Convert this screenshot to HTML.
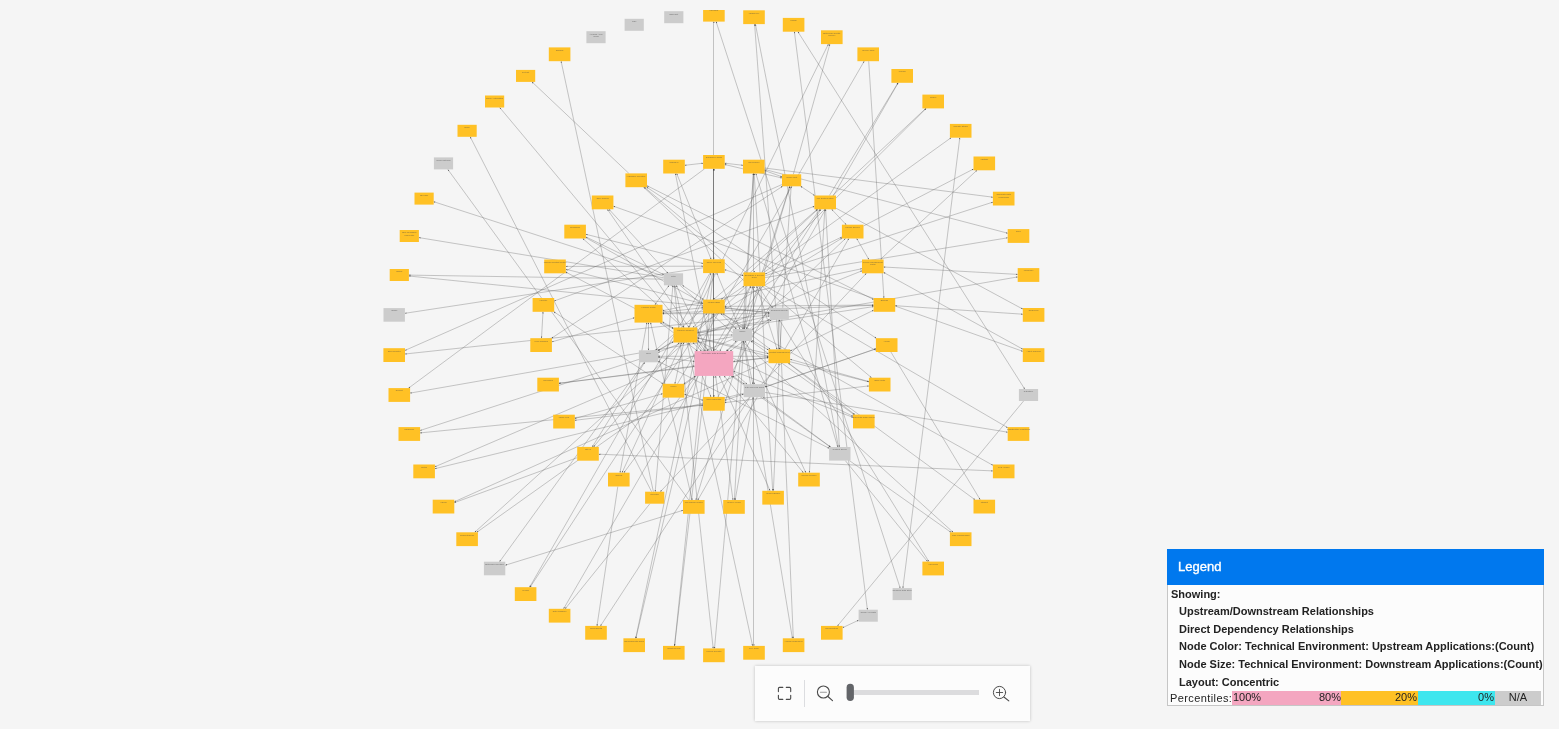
<!DOCTYPE html>
<html lang="en">
<head>
<meta charset="utf-8">
<title>Relationship Graph</title>
<style>
html,body{margin:0;padding:0;}
body{width:1559px;height:729px;background:#f5f5f5;overflow:hidden;position:relative;font-family:"Liberation Sans",Arial,sans-serif;}
#legend{position:absolute;left:1167px;top:549px;width:377px;height:157px;box-sizing:border-box;background:#fcfcfc;border:1px solid #c6c6c6;border-top:none;}
#legend .hd{position:absolute;left:-1px;top:0;width:377px;height:36px;background:#0078ee;color:#fff;font-size:13px;line-height:36px;text-indent:11px;-webkit-text-stroke:0.35px #fff;}
#legend .ln{position:absolute;left:3px;white-space:nowrap;font-size:11px;font-weight:bold;color:#222;line-height:14px;}
#legend .ln.i{left:11px;}
#legend .bar{position:absolute;top:142px;height:14px;font-size:11px;line-height:13px;color:#222;text-align:right;box-sizing:border-box;}
#tb{position:absolute;left:755px;top:666px;width:275px;height:54.5px;background:#fcfcfc;box-shadow:0 0 3px rgba(0,0,0,0.22);}
</style>
</head>
<body>
<svg width="1559" height="719" viewBox="0 10 1559 719" style="position:absolute;left:0;top:10px">
<g stroke="#606060" stroke-width="0.34" fill="none">
<line x1="713.5" y1="155.0" x2="713.5" y2="21.6"/>
<line x1="900.2" y1="588.1" x2="716.1" y2="21.6"/>
<line x1="778.8" y1="349.4" x2="754.6" y2="24.1"/>
<line x1="838.5" y1="447.0" x2="755.4" y2="24.1"/>
<line x1="867.4" y1="609.7" x2="794.4" y2="31.7"/>
<line x1="1024.7" y1="389.0" x2="797.9" y2="31.7"/>
<line x1="689.1" y1="327.5" x2="828.4" y2="44.1"/>
<line x1="793.3" y1="174.3" x2="829.9" y2="44.1"/>
<line x1="677.5" y1="383.8" x2="864.2" y2="61.2"/>
<line x1="868.7" y1="61.2" x2="883.9" y2="298.0"/>
<line x1="829.4" y1="195.5" x2="898.0" y2="82.8"/>
<line x1="717.9" y1="396.9" x2="898.2" y2="82.8"/>
<line x1="832.6" y1="195.5" x2="925.8" y2="108.4"/>
<line x1="761.3" y1="272.4" x2="926.2" y2="108.4"/>
<line x1="763.9" y1="272.4" x2="951.1" y2="137.7"/>
<line x1="902.9" y1="588.1" x2="959.8" y2="137.7"/>
<line x1="863.5" y1="226.0" x2="973.5" y2="169.0"/>
<line x1="880.3" y1="259.5" x2="976.9" y2="170.3"/>
<line x1="764.6" y1="168.0" x2="992.9" y2="197.2"/>
<line x1="765.1" y1="275.8" x2="992.9" y2="202.1"/>
<line x1="764.6" y1="169.4" x2="1007.7" y2="233.2"/>
<line x1="765.1" y1="277.6" x2="1007.7" y2="237.8"/>
<line x1="883.6" y1="267.0" x2="1017.7" y2="274.4"/>
<line x1="697.2" y1="332.9" x2="1017.7" y2="276.9"/>
<line x1="836.0" y1="208.2" x2="1022.8" y2="309.1"/>
<line x1="895.2" y1="305.7" x2="1022.8" y2="314.2"/>
<line x1="883.6" y1="272.4" x2="1022.8" y2="349.2"/>
<line x1="765.1" y1="285.7" x2="1007.7" y2="427.7"/>
<line x1="765.0" y1="392.4" x2="1007.7" y2="432.2"/>
<line x1="598.8" y1="454.2" x2="992.9" y2="470.9"/>
<line x1="585.9" y1="237.7" x2="992.9" y2="465.3"/>
<line x1="788.7" y1="363.2" x2="974.9" y2="499.7"/>
<line x1="890.9" y1="352.0" x2="980.2" y2="499.7"/>
<line x1="849.4" y1="460.6" x2="950.9" y2="532.3"/>
<line x1="680.1" y1="285.3" x2="953.1" y2="532.3"/>
<line x1="845.3" y1="460.6" x2="927.5" y2="561.6"/>
<line x1="758.6" y1="286.2" x2="928.9" y2="561.6"/>
<line x1="1023.6" y1="401.0" x2="837.5" y2="625.9"/>
<line x1="858.6" y1="620.2" x2="842.6" y2="627.7"/>
<line x1="743.4" y1="341.0" x2="792.4" y2="638.3"/>
<line x1="779.6" y1="319.7" x2="793.3" y2="638.3"/>
<line x1="687.0" y1="342.5" x2="752.6" y2="645.9"/>
<line x1="753.5" y1="286.2" x2="753.5" y2="645.9"/>
<line x1="674.1" y1="285.3" x2="713.2" y2="648.4"/>
<line x1="741.9" y1="341.0" x2="714.5" y2="648.4"/>
<line x1="713.2" y1="273.1" x2="674.5" y2="645.9"/>
<line x1="713.1" y1="313.4" x2="674.6" y2="645.9"/>
<line x1="712.4" y1="273.1" x2="635.7" y2="638.3"/>
<line x1="712.3" y1="313.4" x2="635.9" y2="638.3"/>
<line x1="617.8" y1="486.5" x2="597.0" y2="625.9"/>
<line x1="750.1" y1="397.2" x2="600.5" y2="625.9"/>
<line x1="750.3" y1="286.2" x2="563.6" y2="608.8"/>
<line x1="649.9" y1="503.7" x2="565.2" y2="608.8"/>
<line x1="709.9" y1="273.1" x2="529.6" y2="587.2"/>
<line x1="709.4" y1="313.4" x2="530.1" y2="587.2"/>
<line x1="644.1" y1="362.3" x2="499.6" y2="561.7"/>
<line x1="683.0" y1="510.3" x2="505.3" y2="565.2"/>
<line x1="746.7" y1="286.2" x2="474.7" y2="532.3"/>
<line x1="696.5" y1="375.9" x2="476.8" y2="532.3"/>
<line x1="768.5" y1="361.1" x2="454.3" y2="501.8"/>
<line x1="577.2" y1="457.7" x2="454.3" y2="502.7"/>
<line x1="732.8" y1="339.1" x2="434.9" y2="466.8"/>
<line x1="743.7" y1="393.3" x2="434.9" y2="468.7"/>
<line x1="638.9" y1="359.4" x2="420.1" y2="430.5"/>
<line x1="703.1" y1="404.9" x2="420.1" y2="432.9"/>
<line x1="732.8" y1="336.7" x2="410.1" y2="393.1"/>
<line x1="782.0" y1="184.5" x2="405.0" y2="350.4"/>
<line x1="769.7" y1="314.8" x2="405.0" y2="354.0"/>
<line x1="703.1" y1="267.8" x2="404.9" y2="313.3"/>
<line x1="663.9" y1="279.2" x2="408.9" y2="275.1"/>
<line x1="769.7" y1="312.8" x2="408.9" y2="276.0"/>
<line x1="663.9" y1="277.8" x2="418.9" y2="237.6"/>
<line x1="663.9" y1="276.2" x2="433.7" y2="201.7"/>
<line x1="688.8" y1="500.0" x2="447.8" y2="169.4"/>
<line x1="651.6" y1="491.7" x2="470.2" y2="136.8"/>
<line x1="703.5" y1="351.1" x2="499.7" y2="107.5"/>
<line x1="628.9" y1="173.4" x2="532.0" y2="81.9"/>
<line x1="653.4" y1="491.7" x2="561.1" y2="61.2"/>
<line x1="684.8" y1="165.3" x2="703.1" y2="163.2"/>
<line x1="724.7" y1="163.2" x2="743.0" y2="165.3"/>
<line x1="724.7" y1="164.5" x2="782.0" y2="178.0"/>
<line x1="713.5" y1="168.8" x2="713.5" y2="259.3"/>
<line x1="713.5" y1="273.1" x2="713.5" y2="299.6"/>
<line x1="713.5" y1="313.4" x2="713.5" y2="351.1"/>
<line x1="713.5" y1="375.9" x2="713.5" y2="396.9"/>
<line x1="704.6" y1="168.8" x2="408.6" y2="388.1"/>
<line x1="753.5" y1="173.5" x2="753.5" y2="272.4"/>
<line x1="753.4" y1="173.5" x2="742.8" y2="329.0"/>
<line x1="753.4" y1="173.5" x2="734.4" y2="500.0"/>
<line x1="754.2" y1="173.5" x2="772.7" y2="490.8"/>
<line x1="755.9" y1="173.5" x2="837.8" y2="447.0"/>
<line x1="764.6" y1="170.5" x2="782.0" y2="176.8"/>
<line x1="782.5" y1="186.3" x2="551.6" y2="338.2"/>
<line x1="744.3" y1="329.0" x2="789.7" y2="186.3"/>
<line x1="789.8" y1="186.3" x2="695.9" y2="500.0"/>
<line x1="779.8" y1="349.4" x2="791.2" y2="186.3"/>
<line x1="800.7" y1="186.3" x2="814.7" y2="195.5"/>
<line x1="831.7" y1="209.3" x2="846.2" y2="224.7"/>
<line x1="655.4" y1="350.3" x2="817.2" y2="209.3"/>
<line x1="721.3" y1="299.6" x2="817.8" y2="209.3"/>
<line x1="820.0" y1="209.3" x2="623.9" y2="472.7"/>
<line x1="746.1" y1="329.0" x2="820.9" y2="209.3"/>
<line x1="824.8" y1="209.3" x2="809.4" y2="472.7"/>
<line x1="814.4" y1="206.3" x2="554.2" y2="301.0"/>
<line x1="825.6" y1="209.3" x2="839.4" y2="447.0"/>
<line x1="765.1" y1="274.1" x2="841.9" y2="236.9"/>
<line x1="658.1" y1="350.4" x2="841.9" y2="238.2"/>
<line x1="727.0" y1="351.1" x2="845.5" y2="238.5"/>
<line x1="848.8" y1="238.5" x2="697.8" y2="500.0"/>
<line x1="856.7" y1="238.5" x2="868.9" y2="259.5"/>
<line x1="662.5" y1="310.8" x2="862.0" y2="268.7"/>
<line x1="658.1" y1="352.4" x2="862.0" y2="270.8"/>
<line x1="866.3" y1="273.3" x2="660.4" y2="491.7"/>
<line x1="647.0" y1="185.7" x2="873.6" y2="299.5"/>
<line x1="662.5" y1="313.2" x2="873.6" y2="305.3"/>
<line x1="697.2" y1="333.2" x2="873.6" y2="306.6"/>
<line x1="790.1" y1="351.0" x2="873.6" y2="310.2"/>
<line x1="646.7" y1="187.2" x2="876.2" y2="338.2"/>
<line x1="765.0" y1="387.0" x2="875.9" y2="348.8"/>
<line x1="765.0" y1="387.0" x2="875.9" y2="348.8"/>
<line x1="644.4" y1="187.2" x2="871.5" y2="377.7"/>
<line x1="697.2" y1="338.0" x2="868.9" y2="381.9"/>
<line x1="790.1" y1="359.3" x2="868.9" y2="381.6"/>
<line x1="724.7" y1="402.6" x2="868.9" y2="385.9"/>
<line x1="733.2" y1="371.0" x2="853.0" y2="417.4"/>
<line x1="697.2" y1="340.7" x2="853.0" y2="416.3"/>
<line x1="750.8" y1="341.0" x2="854.1" y2="414.6"/>
<line x1="788.3" y1="363.2" x2="854.9" y2="414.6"/>
<line x1="763.1" y1="397.2" x2="830.6" y2="447.0"/>
<line x1="731.2" y1="375.9" x2="830.3" y2="447.0"/>
<line x1="658.1" y1="361.2" x2="829.1" y2="448.3"/>
<line x1="724.1" y1="375.9" x2="803.4" y2="472.7"/>
<line x1="745.2" y1="341.0" x2="805.8" y2="472.7"/>
<line x1="719.4" y1="375.9" x2="770.1" y2="490.8"/>
<line x1="779.0" y1="363.2" x2="773.4" y2="490.8"/>
<line x1="753.2" y1="397.2" x2="735.2" y2="500.0"/>
<line x1="715.6" y1="375.9" x2="733.0" y2="500.0"/>
<line x1="650.6" y1="322.6" x2="692.2" y2="500.0"/>
<line x1="672.9" y1="285.3" x2="655.2" y2="491.7"/>
<line x1="646.9" y1="322.6" x2="620.0" y2="472.7"/>
<line x1="681.9" y1="342.5" x2="622.0" y2="472.7"/>
<line x1="644.7" y1="362.3" x2="592.3" y2="446.9"/>
<line x1="679.2" y1="342.5" x2="593.6" y2="446.9"/>
<line x1="662.7" y1="393.7" x2="574.8" y2="418.5"/>
<line x1="703.1" y1="405.1" x2="574.8" y2="420.3"/>
<line x1="694.6" y1="366.0" x2="558.9" y2="383.3"/>
<line x1="768.5" y1="357.6" x2="558.9" y2="383.3"/>
<line x1="551.9" y1="341.9" x2="634.5" y2="317.8"/>
<line x1="541.5" y1="338.2" x2="543.0" y2="311.8"/>
<line x1="663.0" y1="383.8" x2="553.9" y2="311.8"/>
<line x1="703.1" y1="266.2" x2="565.8" y2="266.4"/>
<line x1="703.1" y1="303.8" x2="565.8" y2="269.2"/>
<line x1="673.5" y1="328.8" x2="565.8" y2="272.1"/>
<line x1="703.1" y1="263.5" x2="585.9" y2="234.3"/>
<line x1="663.9" y1="274.7" x2="585.9" y2="236.9"/>
<line x1="747.0" y1="384.2" x2="582.8" y2="238.5"/>
<line x1="1022.8" y1="351.3" x2="613.4" y2="206.2"/>
<line x1="667.9" y1="273.3" x2="609.0" y2="209.3"/>
<line x1="705.3" y1="351.1" x2="607.4" y2="209.3"/>
<line x1="772.9" y1="307.7" x2="643.6" y2="187.2"/>
<line x1="675.4" y1="173.5" x2="711.4" y2="351.1"/>
<line x1="676.7" y1="173.5" x2="711.1" y2="259.3"/>
<line x1="713.5" y1="168.8" x2="713.5" y2="351.1"/>
<line x1="713.5" y1="168.8" x2="713.5" y2="396.9"/>
<line x1="713.5" y1="168.8" x2="713.5" y2="299.6"/>
<line x1="726.3" y1="351.1" x2="736.4" y2="341.0"/>
<line x1="701.5" y1="351.1" x2="692.9" y2="342.5"/>
<line x1="733.2" y1="361.4" x2="768.5" y2="357.5"/>
<line x1="732.4" y1="375.9" x2="744.7" y2="384.2"/>
<line x1="695.4" y1="375.9" x2="683.7" y2="383.8"/>
<line x1="694.6" y1="361.4" x2="658.1" y2="357.3"/>
<line x1="697.6" y1="351.1" x2="660.2" y2="322.6"/>
<line x1="707.9" y1="351.1" x2="676.3" y2="285.3"/>
<line x1="719.9" y1="351.1" x2="751.0" y2="286.2"/>
<line x1="730.2" y1="351.1" x2="771.4" y2="319.7"/>
<line x1="720.8" y1="313.4" x2="736.4" y2="329.0"/>
<line x1="707.0" y1="313.4" x2="692.9" y2="327.5"/>
<line x1="724.2" y1="299.6" x2="744.1" y2="286.2"/>
<line x1="703.6" y1="299.6" x2="682.4" y2="285.3"/>
<line x1="703.1" y1="307.7" x2="662.5" y2="312.2"/>
<line x1="724.7" y1="307.7" x2="769.7" y2="312.7"/>
<line x1="723.0" y1="313.4" x2="770.3" y2="349.4"/>
<line x1="724.7" y1="306.4" x2="873.6" y2="305.0"/>
<line x1="743.7" y1="329.0" x2="752.9" y2="286.2"/>
<line x1="752.0" y1="329.5" x2="769.7" y2="319.3"/>
<line x1="752.0" y1="340.5" x2="768.5" y2="350.0"/>
<line x1="743.7" y1="341.0" x2="752.9" y2="384.2"/>
<line x1="732.8" y1="335.0" x2="697.2" y2="335.0"/>
<line x1="739.9" y1="329.0" x2="716.8" y2="273.1"/>
<line x1="673.5" y1="328.2" x2="662.5" y2="321.8"/>
<line x1="673.5" y1="341.8" x2="658.1" y2="350.7"/>
<line x1="683.8" y1="342.5" x2="674.9" y2="383.8"/>
<line x1="683.8" y1="327.5" x2="674.7" y2="285.3"/>
<line x1="688.5" y1="327.5" x2="711.0" y2="273.1"/>
<line x1="688.5" y1="342.5" x2="711.0" y2="396.9"/>
<line x1="697.2" y1="337.7" x2="768.5" y2="353.8"/>
<line x1="697.2" y1="332.3" x2="769.7" y2="315.9"/>
<line x1="724.7" y1="269.7" x2="743.5" y2="275.8"/>
<line x1="778.5" y1="319.7" x2="778.5" y2="349.4"/>
<line x1="648.5" y1="322.6" x2="648.5" y2="350.3"/>
<line x1="662.5" y1="313.7" x2="769.7" y2="313.7"/>
<line x1="743.7" y1="394.1" x2="724.7" y2="400.3"/>
<line x1="684.3" y1="394.2" x2="703.1" y2="400.3"/>
<line x1="654.9" y1="304.8" x2="669.1" y2="285.3"/>
<line x1="756.6" y1="286.2" x2="777.1" y2="349.4"/>
<line x1="658.1" y1="356.3" x2="768.5" y2="356.3"/>
<line x1="753.5" y1="286.2" x2="753.5" y2="384.2"/>
</g>
<g fill="#444">
<polygon points="713.9,21.6 714.5,23.1 713.3,23.1"/>
<polygon points="716.1,21.6 717.2,22.8 716.0,23.2"/>
<polygon points="900.2,588.1 899.2,586.9 900.3,586.5"/>
<polygon points="754.6,24.1 755.3,25.6 754.1,25.7"/>
<polygon points="755.4,24.1 756.3,25.5 755.1,25.7"/>
<polygon points="794.4,31.7 795.2,33.1 794.0,33.2"/>
<polygon points="867.4,609.7 866.6,608.3 867.9,608.1"/>
<polygon points="797.9,31.7 799.3,32.6 798.2,33.3"/>
<polygon points="1024.7,389.0 1023.4,388.1 1024.4,387.4"/>
<polygon points="828.4,44.1 828.3,45.7 827.2,45.2"/>
<polygon points="829.9,44.1 830.1,45.7 828.9,45.4"/>
<polygon points="864.2,61.2 864.0,62.8 862.9,62.2"/>
<polygon points="883.9,298.0 883.2,296.6 884.4,296.5"/>
<polygon points="898.0,82.8 897.7,84.4 896.7,83.7"/>
<polygon points="898.2,82.8 898.0,84.4 896.9,83.8"/>
<polygon points="925.8,108.4 925.1,109.9 924.3,109.0"/>
<polygon points="926.2,108.4 925.6,109.9 924.7,109.0"/>
<polygon points="951.1,137.7 950.3,139.1 949.5,138.1"/>
<polygon points="959.8,137.7 960.3,139.3 959.0,139.1"/>
<polygon points="902.9,588.1 902.5,586.6 903.7,586.7"/>
<polygon points="973.5,169.0 972.5,170.2 971.9,169.1"/>
<polygon points="976.9,170.3 976.2,171.7 975.4,170.8"/>
<polygon points="992.9,197.2 991.3,197.7 991.5,196.4"/>
<polygon points="992.9,202.1 991.7,203.2 991.3,202.0"/>
<polygon points="1007.7,233.2 1006.1,233.4 1006.4,232.2"/>
<polygon points="1007.7,237.8 1006.3,238.6 1006.1,237.4"/>
<polygon points="1017.7,274.4 1016.2,274.9 1016.3,273.7"/>
<polygon points="883.6,267.0 885.2,266.5 885.1,267.7"/>
<polygon points="1017.7,276.9 1016.4,277.7 1016.1,276.5"/>
<polygon points="1022.8,309.1 1021.2,308.9 1021.7,307.8"/>
<polygon points="1022.8,314.2 1021.2,314.7 1021.3,313.4"/>
<polygon points="895.2,305.7 896.7,305.1 896.6,306.4"/>
<polygon points="1022.8,349.2 1021.2,349.0 1021.8,347.9"/>
<polygon points="883.6,272.4 885.3,272.6 884.7,273.7"/>
<polygon points="1007.7,427.7 1006.1,427.4 1006.7,426.4"/>
<polygon points="1007.7,432.2 1006.1,432.6 1006.3,431.4"/>
<polygon points="992.9,470.9 991.4,471.5 991.4,470.2"/>
<polygon points="598.8,454.2 600.3,453.7 600.3,454.9"/>
<polygon points="992.9,465.3 991.3,465.1 991.9,464.1"/>
<polygon points="974.9,499.7 973.4,499.3 974.1,498.3"/>
<polygon points="980.2,499.7 978.9,498.8 979.9,498.1"/>
<polygon points="950.9,532.3 949.3,531.9 950.1,530.9"/>
<polygon points="953.1,532.3 951.5,531.7 952.4,530.8"/>
<polygon points="927.5,561.6 926.1,560.8 927.1,560.0"/>
<polygon points="928.9,561.6 927.6,560.6 928.6,560.0"/>
<polygon points="837.5,625.9 838.0,624.4 839.0,625.1"/>
<polygon points="842.6,627.7 843.7,626.5 844.2,627.6"/>
<polygon points="858.6,620.2 857.5,621.4 857.0,620.3"/>
<polygon points="792.4,638.3 791.6,637.0 792.8,636.8"/>
<polygon points="793.3,638.3 792.6,636.9 793.8,636.8"/>
<polygon points="752.6,645.9 751.6,644.5 752.8,644.3"/>
<polygon points="754.0,645.9 753.4,644.4 754.7,644.4"/>
<polygon points="713.2,648.4 712.4,647.0 713.6,646.8"/>
<polygon points="714.5,648.4 714.0,646.9 715.3,647.0"/>
<polygon points="674.5,645.9 674.0,644.3 675.2,644.4"/>
<polygon points="674.6,645.9 674.1,644.3 675.3,644.5"/>
<polygon points="635.7,638.3 635.4,636.7 636.6,637.0"/>
<polygon points="635.9,638.3 635.6,636.7 636.8,637.0"/>
<polygon points="597.0,625.9 596.6,624.3 597.9,624.5"/>
<polygon points="600.5,625.9 600.8,624.3 601.8,625.0"/>
<polygon points="563.6,608.8 563.8,607.2 564.9,607.8"/>
<polygon points="565.2,608.8 565.6,607.2 566.6,608.0"/>
<polygon points="529.6,587.2 529.8,585.6 530.9,586.2"/>
<polygon points="530.1,587.2 530.5,585.6 531.5,586.3"/>
<polygon points="499.6,561.7 499.9,560.1 501.0,560.8"/>
<polygon points="505.3,565.2 506.6,564.1 507.0,565.3"/>
<polygon points="683.0,510.3 681.8,511.3 681.4,510.1"/>
<polygon points="474.7,532.3 475.4,530.8 476.3,531.7"/>
<polygon points="476.8,532.3 477.7,530.9 478.4,531.9"/>
<polygon points="454.3,501.8 455.4,500.6 455.9,501.7"/>
<polygon points="454.3,502.7 455.5,501.6 455.9,502.7"/>
<polygon points="434.9,466.8 436.0,465.6 436.5,466.7"/>
<polygon points="434.9,468.7 436.2,467.8 436.5,469.0"/>
<polygon points="420.1,430.5 421.3,429.4 421.7,430.6"/>
<polygon points="420.1,432.9 421.5,432.1 421.6,433.4"/>
<polygon points="410.1,393.1 411.4,392.3 411.7,393.5"/>
<polygon points="405.0,350.4 406.2,349.2 406.7,350.3"/>
<polygon points="405.0,354.0 406.5,353.2 406.6,354.4"/>
<polygon points="404.9,313.3 406.3,312.4 406.5,313.6"/>
<polygon points="408.9,275.1 410.4,274.5 410.4,275.8"/>
<polygon points="408.9,276.0 410.4,275.5 410.3,276.7"/>
<polygon points="418.9,237.6 420.5,237.2 420.3,238.5"/>
<polygon points="433.7,201.7 435.3,201.6 434.9,202.8"/>
<polygon points="447.8,169.4 449.2,170.2 448.2,171.0"/>
<polygon points="470.2,136.8 471.4,137.9 470.3,138.5"/>
<polygon points="499.7,107.5 501.1,108.3 500.1,109.1"/>
<polygon points="532.0,81.9 533.5,82.5 532.6,83.4"/>
<polygon points="561.1,61.2 562.0,62.6 560.8,62.8"/>
<polygon points="703.1,163.2 701.7,164.0 701.5,162.7"/>
<polygon points="684.8,165.3 686.2,164.5 686.3,165.7"/>
<polygon points="743.0,165.3 741.5,165.7 741.6,164.5"/>
<polygon points="724.7,163.2 726.3,162.7 726.1,164.0"/>
<polygon points="782.0,178.0 780.4,178.3 780.7,177.1"/>
<polygon points="724.7,164.5 726.3,164.2 726.0,165.4"/>
<polygon points="713.9,259.3 713.3,257.8 714.5,257.8"/>
<polygon points="713.9,168.8 714.5,170.3 713.3,170.3"/>
<polygon points="713.9,299.6 713.3,298.1 714.5,298.1"/>
<polygon points="713.9,273.1 714.5,274.6 713.3,274.6"/>
<polygon points="713.9,351.1 713.3,349.6 714.5,349.6"/>
<polygon points="713.9,313.4 714.5,314.9 713.3,314.9"/>
<polygon points="713.9,396.9 713.3,395.4 714.5,395.4"/>
<polygon points="713.9,375.9 714.5,377.4 713.3,377.4"/>
<polygon points="408.6,388.1 409.4,386.7 410.2,387.7"/>
<polygon points="754.3,272.4 753.7,270.9 754.9,270.9"/>
<polygon points="753.9,173.5 754.5,175.0 753.2,175.0"/>
<polygon points="742.8,329.0 742.3,327.5 743.5,327.5"/>
<polygon points="753.4,173.5 753.9,175.0 752.6,174.9"/>
<polygon points="734.4,500.0 733.9,498.5 735.1,498.6"/>
<polygon points="753.4,173.5 753.9,175.0 752.7,174.9"/>
<polygon points="772.7,490.8 772.0,489.3 773.2,489.2"/>
<polygon points="754.2,173.5 754.9,174.9 753.7,175.0"/>
<polygon points="837.8,447.0 836.7,445.7 837.9,445.4"/>
<polygon points="755.9,173.5 756.9,174.7 755.7,175.1"/>
<polygon points="782.0,176.8 780.4,176.9 780.8,175.7"/>
<polygon points="764.6,170.5 766.2,170.4 765.8,171.6"/>
<polygon points="551.6,338.2 552.5,336.8 553.2,337.9"/>
<polygon points="782.5,186.3 781.6,187.7 780.9,186.6"/>
<polygon points="789.7,186.3 789.8,187.9 788.6,187.6"/>
<polygon points="744.3,329.0 744.2,327.4 745.4,327.8"/>
<polygon points="695.9,500.0 695.7,498.4 696.9,498.8"/>
<polygon points="789.8,186.3 790.0,187.9 788.8,187.6"/>
<polygon points="791.2,186.3 791.7,187.9 790.4,187.8"/>
<polygon points="779.8,349.4 779.3,347.8 780.5,347.9"/>
<polygon points="814.7,195.5 813.1,195.2 813.8,194.2"/>
<polygon points="800.7,186.3 802.3,186.6 801.6,187.7"/>
<polygon points="846.2,224.7 844.8,224.1 845.7,223.2"/>
<polygon points="831.7,209.3 833.2,210.0 832.3,210.8"/>
<polygon points="817.2,209.3 816.5,210.8 815.7,209.8"/>
<polygon points="655.4,350.3 656.1,348.8 656.9,349.7"/>
<polygon points="817.8,209.3 817.1,210.8 816.3,209.9"/>
<polygon points="721.3,299.6 721.9,298.1 722.8,299.0"/>
<polygon points="623.9,472.7 624.3,471.1 625.3,471.9"/>
<polygon points="820.0,209.3 819.6,210.9 818.6,210.1"/>
<polygon points="820.9,209.3 820.6,210.9 819.5,210.2"/>
<polygon points="746.1,329.0 746.4,327.4 747.5,328.1"/>
<polygon points="809.4,472.7 808.9,471.2 810.1,471.3"/>
<polygon points="824.8,209.3 825.3,210.8 824.1,210.8"/>
<polygon points="554.2,301.0 555.4,299.9 555.9,301.1"/>
<polygon points="814.4,206.3 813.2,207.4 812.7,206.3"/>
<polygon points="839.4,447.0 838.7,445.5 839.9,445.5"/>
<polygon points="825.6,209.3 826.3,210.8 825.0,210.8"/>
<polygon points="841.9,236.9 840.9,238.1 840.3,237.0"/>
<polygon points="765.1,274.1 766.2,272.9 766.8,274.0"/>
<polygon points="841.9,238.2 841.0,239.5 840.3,238.5"/>
<polygon points="658.1,350.4 659.0,349.1 659.7,350.2"/>
<polygon points="845.5,238.5 844.8,240.0 844.0,239.1"/>
<polygon points="727.0,351.1 727.6,349.6 728.5,350.5"/>
<polygon points="697.8,500.0 698.0,498.4 699.1,499.0"/>
<polygon points="848.8,238.5 848.6,240.1 847.5,239.5"/>
<polygon points="868.9,259.5 867.6,258.5 868.6,257.9"/>
<polygon points="856.7,238.5 858.0,239.5 856.9,240.1"/>
<polygon points="862.0,268.7 860.7,269.6 860.4,268.4"/>
<polygon points="662.5,310.8 663.8,309.9 664.1,311.1"/>
<polygon points="862.0,270.8 860.9,271.9 860.4,270.7"/>
<polygon points="658.1,352.4 659.2,351.3 659.7,352.4"/>
<polygon points="660.4,491.7 660.9,490.1 661.8,491.0"/>
<polygon points="866.3,273.3 865.8,274.9 864.9,274.0"/>
<polygon points="873.6,299.5 872.0,299.4 872.5,298.3"/>
<polygon points="647.0,185.7 648.6,185.9 648.1,187.0"/>
<polygon points="873.6,305.3 872.1,306.0 872.0,304.8"/>
<polygon points="662.5,313.2 663.9,312.5 664.0,313.8"/>
<polygon points="873.6,306.6 872.2,307.4 872.0,306.2"/>
<polygon points="697.2,333.2 698.6,332.4 698.8,333.6"/>
<polygon points="873.6,310.2 872.5,311.4 872.0,310.3"/>
<polygon points="790.1,351.0 791.2,349.8 791.8,350.9"/>
<polygon points="876.2,338.2 874.6,337.9 875.3,336.8"/>
<polygon points="646.7,187.2 648.3,187.5 647.6,188.6"/>
<polygon points="875.9,348.8 874.7,349.9 874.3,348.7"/>
<polygon points="765.0,387.0 766.2,385.9 766.6,387.1"/>
<polygon points="875.9,348.8 874.7,349.9 874.3,348.7"/>
<polygon points="765.0,387.0 766.2,385.9 766.6,387.1"/>
<polygon points="871.5,377.7 870.0,377.3 870.8,376.3"/>
<polygon points="644.4,187.2 646.0,187.7 645.2,188.7"/>
<polygon points="868.9,381.9 867.3,382.1 867.6,380.9"/>
<polygon points="697.2,338.0 698.9,337.8 698.5,339.0"/>
<polygon points="868.9,381.6 867.3,381.8 867.7,380.6"/>
<polygon points="790.1,359.3 791.7,359.1 791.4,360.3"/>
<polygon points="868.9,385.9 867.5,386.7 867.4,385.4"/>
<polygon points="724.7,402.6 726.1,401.8 726.3,403.0"/>
<polygon points="853.0,417.4 851.4,417.4 851.8,416.2"/>
<polygon points="733.2,371.0 734.8,370.9 734.4,372.1"/>
<polygon points="853.0,416.3 851.4,416.2 851.9,415.1"/>
<polygon points="697.2,340.7 698.9,340.8 698.3,342.0"/>
<polygon points="854.1,414.6 852.5,414.3 853.3,413.3"/>
<polygon points="750.8,341.0 752.4,341.4 751.7,342.4"/>
<polygon points="854.9,414.6 853.3,414.2 854.1,413.2"/>
<polygon points="788.3,363.2 789.8,363.6 789.1,364.6"/>
<polygon points="830.6,447.0 829.0,446.6 829.8,445.6"/>
<polygon points="763.1,397.2 764.7,397.6 764.0,398.6"/>
<polygon points="830.3,447.0 828.7,446.6 829.5,445.6"/>
<polygon points="731.2,375.9 732.8,376.3 732.0,377.3"/>
<polygon points="829.1,448.3 827.5,448.2 828.1,447.1"/>
<polygon points="658.1,361.2 659.7,361.3 659.1,362.4"/>
<polygon points="803.4,472.7 801.9,472.0 802.9,471.2"/>
<polygon points="724.1,375.9 725.5,376.7 724.5,377.5"/>
<polygon points="805.8,472.7 804.7,471.6 805.8,471.1"/>
<polygon points="745.2,341.0 746.4,342.1 745.2,342.6"/>
<polygon points="770.1,490.8 768.9,489.6 770.0,489.1"/>
<polygon points="719.4,375.9 720.5,377.0 719.4,377.5"/>
<polygon points="773.4,490.8 772.9,489.2 774.1,489.3"/>
<polygon points="779.0,363.2 779.6,364.7 778.3,364.6"/>
<polygon points="735.2,500.0 734.9,498.4 736.1,498.7"/>
<polygon points="753.2,397.2 753.6,398.7 752.3,398.5"/>
<polygon points="733.0,500.0 732.2,498.6 733.4,498.5"/>
<polygon points="715.6,375.9 716.5,377.3 715.2,377.5"/>
<polygon points="692.2,500.0 691.2,498.7 692.4,498.4"/>
<polygon points="650.6,322.6 651.5,324.0 650.3,324.2"/>
<polygon points="655.2,491.7 654.7,490.1 656.0,490.2"/>
<polygon points="672.9,285.3 673.4,286.9 672.2,286.8"/>
<polygon points="620.0,472.7 619.7,471.1 620.9,471.4"/>
<polygon points="646.9,322.6 647.2,324.2 646.0,324.0"/>
<polygon points="622.0,472.7 622.0,471.1 623.1,471.6"/>
<polygon points="681.9,342.5 681.9,344.1 680.8,343.6"/>
<polygon points="592.3,446.9 592.5,445.3 593.6,445.9"/>
<polygon points="644.7,362.3 644.5,363.9 643.4,363.2"/>
<polygon points="593.6,446.9 594.1,445.3 595.1,446.1"/>
<polygon points="679.2,342.5 678.8,344.1 677.8,343.3"/>
<polygon points="574.8,418.5 576.1,417.5 576.4,418.7"/>
<polygon points="662.7,393.7 661.4,394.7 661.0,393.5"/>
<polygon points="574.8,420.3 576.2,419.5 576.4,420.7"/>
<polygon points="703.1,405.1 701.7,405.9 701.5,404.6"/>
<polygon points="558.9,383.3 560.3,382.5 560.4,383.7"/>
<polygon points="694.6,366.0 693.2,366.8 693.0,365.5"/>
<polygon points="558.9,383.3 560.3,382.5 560.4,383.8"/>
<polygon points="768.5,357.6 767.1,358.4 767.0,357.2"/>
<polygon points="634.5,317.8 633.2,318.8 632.9,317.6"/>
<polygon points="551.9,341.9 553.2,340.9 553.5,342.1"/>
<polygon points="543.0,311.8 543.6,313.4 542.3,313.3"/>
<polygon points="541.5,338.2 541.0,336.6 542.2,336.7"/>
<polygon points="553.9,311.8 555.5,312.1 554.8,313.2"/>
<polygon points="663.0,383.8 661.4,383.5 662.1,382.4"/>
<polygon points="565.8,266.4 567.3,265.8 567.3,267.0"/>
<polygon points="703.1,266.2 701.6,266.8 701.6,265.6"/>
<polygon points="565.8,269.2 567.4,268.9 567.1,270.1"/>
<polygon points="703.1,303.8 701.5,304.0 701.8,302.8"/>
<polygon points="565.8,272.1 567.4,272.3 566.8,273.4"/>
<polygon points="673.5,328.8 671.9,328.6 672.5,327.5"/>
<polygon points="585.9,234.3 587.5,234.1 587.2,235.3"/>
<polygon points="703.1,263.5 701.5,263.8 701.8,262.5"/>
<polygon points="585.9,236.9 587.5,237.0 586.9,238.1"/>
<polygon points="663.9,274.7 662.2,274.6 662.8,273.5"/>
<polygon points="582.8,238.5 584.4,239.1 583.5,240.0"/>
<polygon points="747.0,384.2 745.5,383.6 746.3,382.7"/>
<polygon points="613.4,206.2 615.1,206.1 614.6,207.3"/>
<polygon points="1022.8,351.3 1021.1,351.4 1021.6,350.2"/>
<polygon points="609.0,209.3 610.5,210.0 609.5,210.8"/>
<polygon points="667.9,273.3 666.5,272.7 667.4,271.8"/>
<polygon points="607.4,209.3 608.8,210.2 607.7,210.9"/>
<polygon points="705.3,351.1 704.0,350.2 705.0,349.5"/>
<polygon points="643.6,187.2 645.1,187.8 644.3,188.7"/>
<polygon points="772.9,307.7 771.4,307.2 772.2,306.3"/>
<polygon points="711.4,351.1 710.5,349.8 711.7,349.5"/>
<polygon points="675.4,173.5 676.3,174.8 675.1,175.1"/>
<polygon points="711.1,259.3 710.0,258.1 711.2,257.7"/>
<polygon points="676.7,173.5 677.9,174.6 676.7,175.1"/>
<polygon points="713.9,351.1 713.3,349.6 714.5,349.6"/>
<polygon points="713.9,168.8 714.5,170.3 713.3,170.3"/>
<polygon points="713.9,396.9 713.3,395.4 714.5,395.4"/>
<polygon points="713.9,168.8 714.5,170.3 713.3,170.3"/>
<polygon points="713.9,299.6 713.3,298.1 714.5,298.1"/>
<polygon points="713.9,168.8 714.5,170.3 713.3,170.3"/>
<polygon points="736.4,341.0 735.8,342.5 734.9,341.6"/>
<polygon points="726.3,351.1 726.9,349.6 727.8,350.5"/>
<polygon points="692.9,342.5 694.4,343.1 693.5,344.0"/>
<polygon points="701.5,351.1 700.0,350.5 700.9,349.6"/>
<polygon points="768.5,357.5 767.1,358.2 767.0,357.0"/>
<polygon points="733.2,361.4 734.6,360.6 734.8,361.8"/>
<polygon points="744.7,384.2 743.1,383.8 743.8,382.8"/>
<polygon points="732.4,375.9 734.0,376.2 733.3,377.3"/>
<polygon points="683.7,383.8 684.6,382.4 685.3,383.4"/>
<polygon points="695.4,375.9 694.5,377.3 693.8,376.2"/>
<polygon points="658.1,357.3 659.6,356.9 659.5,358.1"/>
<polygon points="694.6,361.4 693.0,361.8 693.2,360.6"/>
<polygon points="660.2,322.6 661.7,323.1 661.0,324.0"/>
<polygon points="697.6,351.1 696.0,350.7 696.8,349.7"/>
<polygon points="676.3,285.3 677.6,286.4 676.4,287.0"/>
<polygon points="707.9,351.1 706.7,350.0 707.9,349.5"/>
<polygon points="751.0,286.2 750.9,287.9 749.8,287.3"/>
<polygon points="719.9,351.1 719.9,349.5 721.1,350.0"/>
<polygon points="771.4,319.7 770.6,321.1 769.9,320.2"/>
<polygon points="730.2,351.1 731.0,349.7 731.8,350.7"/>
<polygon points="736.4,329.0 734.9,328.4 735.8,327.5"/>
<polygon points="720.8,313.4 722.3,314.0 721.4,314.9"/>
<polygon points="692.9,327.5 693.5,326.0 694.4,326.9"/>
<polygon points="707.0,313.4 706.4,314.9 705.5,314.0"/>
<polygon points="744.1,286.2 743.2,287.6 742.5,286.6"/>
<polygon points="724.2,299.6 725.1,298.2 725.8,299.3"/>
<polygon points="682.4,285.3 684.0,285.7 683.3,286.7"/>
<polygon points="703.6,299.6 702.0,299.3 702.7,298.2"/>
<polygon points="662.5,312.2 663.9,311.4 664.0,312.6"/>
<polygon points="703.1,307.7 701.7,308.5 701.5,307.2"/>
<polygon points="769.7,312.7 768.2,313.1 768.3,311.9"/>
<polygon points="724.7,307.7 726.3,307.2 726.1,308.5"/>
<polygon points="770.3,349.4 768.7,348.9 769.4,348.0"/>
<polygon points="723.0,313.4 724.5,313.8 723.8,314.8"/>
<polygon points="873.6,305.0 872.1,305.7 872.1,304.4"/>
<polygon points="724.7,306.4 726.2,305.8 726.2,307.0"/>
<polygon points="752.9,286.2 753.2,287.8 751.9,287.6"/>
<polygon points="743.7,329.0 743.4,327.4 744.6,327.7"/>
<polygon points="769.7,319.3 768.7,320.6 768.1,319.5"/>
<polygon points="752.0,329.5 753.0,328.2 753.6,329.3"/>
<polygon points="768.5,350.0 766.9,349.8 767.5,348.8"/>
<polygon points="752.0,340.5 753.6,340.7 753.0,341.8"/>
<polygon points="752.9,384.2 752.0,382.8 753.2,382.6"/>
<polygon points="743.7,341.0 744.6,342.3 743.4,342.6"/>
<polygon points="697.2,335.0 698.8,334.4 698.8,335.6"/>
<polygon points="732.8,335.0 731.3,335.6 731.3,334.4"/>
<polygon points="716.8,273.1 717.9,274.2 716.8,274.7"/>
<polygon points="739.9,329.0 738.8,327.9 739.9,327.4"/>
<polygon points="662.5,321.8 664.1,322.0 663.5,323.1"/>
<polygon points="673.5,328.2 671.9,328.0 672.6,326.9"/>
<polygon points="658.1,350.7 659.1,349.4 659.7,350.5"/>
<polygon points="673.5,341.8 672.6,343.1 671.9,342.0"/>
<polygon points="674.9,383.8 674.6,382.2 675.9,382.4"/>
<polygon points="683.8,342.5 684.1,344.1 682.9,343.8"/>
<polygon points="674.7,285.3 675.7,286.7 674.5,286.9"/>
<polygon points="683.8,327.5 682.9,326.2 684.1,325.9"/>
<polygon points="711.0,273.1 711.0,274.7 709.9,274.2"/>
<polygon points="688.5,327.5 688.5,325.9 689.7,326.4"/>
<polygon points="711.0,396.9 709.9,395.8 711.0,395.3"/>
<polygon points="688.5,342.5 689.7,343.6 688.5,344.1"/>
<polygon points="768.5,353.8 766.9,354.1 767.2,352.9"/>
<polygon points="697.2,337.7 698.8,337.4 698.6,338.6"/>
<polygon points="769.7,315.9 768.4,316.8 768.1,315.6"/>
<polygon points="697.2,332.3 698.6,331.4 698.8,332.6"/>
<polygon points="743.5,275.8 741.9,276.0 742.3,274.8"/>
<polygon points="724.7,269.7 726.3,269.6 725.9,270.8"/>
<polygon points="779.3,349.4 778.7,347.9 780.0,347.9"/>
<polygon points="779.3,319.7 780.0,321.2 778.7,321.2"/>
<polygon points="648.5,350.3 647.8,348.8 649.1,348.8"/>
<polygon points="648.5,322.6 649.1,324.1 647.8,324.1"/>
<polygon points="769.7,313.7 768.2,314.4 768.2,313.1"/>
<polygon points="662.5,313.7 664.0,313.1 664.0,314.4"/>
<polygon points="724.7,400.3 725.9,399.2 726.3,400.4"/>
<polygon points="743.7,394.1 742.5,395.2 742.1,394.0"/>
<polygon points="703.1,400.3 701.5,400.4 701.9,399.2"/>
<polygon points="684.3,394.2 685.9,394.0 685.5,395.2"/>
<polygon points="669.1,285.3 668.7,286.9 667.7,286.2"/>
<polygon points="654.9,304.8 655.3,303.3 656.3,304.0"/>
<polygon points="777.1,349.4 776.0,348.1 777.2,347.7"/>
<polygon points="756.6,286.2 757.6,287.5 756.5,287.9"/>
<polygon points="768.5,356.3 767.0,356.9 767.0,355.6"/>
<polygon points="658.1,356.3 659.6,355.6 659.6,356.9"/>
<polygon points="754.3,384.2 753.7,382.7 755.0,382.7"/>
<polygon points="754.3,286.2 755.0,287.7 753.7,287.7"/>
</g>
<rect x="703.1" y="299.6" width="21.6" height="13.8" fill="#ffc125"/>
<rect x="732.8" y="329.0" width="19.2" height="12.0" fill="#cccccc"/>
<rect x="694.6" y="351.1" width="38.6" height="24.8" fill="#f4a6c0"/>
<rect x="673.5" y="327.5" width="23.7" height="15.0" fill="#ffc125"/>
<rect x="703.1" y="259.3" width="21.6" height="13.8" fill="#ffc125"/>
<rect x="743.5" y="272.4" width="21.6" height="13.8" fill="#ffc125"/>
<rect x="769.7" y="307.7" width="19.2" height="12.0" fill="#cccccc"/>
<rect x="768.5" y="349.4" width="21.6" height="13.8" fill="#ffc125"/>
<rect x="743.7" y="384.2" width="21.3" height="13.0" fill="#cccccc"/>
<rect x="703.1" y="396.9" width="21.6" height="13.8" fill="#ffc125"/>
<rect x="662.7" y="383.8" width="21.6" height="13.8" fill="#ffc125"/>
<rect x="638.9" y="350.3" width="19.2" height="12.0" fill="#cccccc"/>
<rect x="634.5" y="304.8" width="28.0" height="17.8" fill="#ffc125"/>
<rect x="663.9" y="273.3" width="19.2" height="12.0" fill="#cccccc"/>
<rect x="703.1" y="155.0" width="21.6" height="13.8" fill="#ffc125"/>
<rect x="743.0" y="159.7" width="21.6" height="13.8" fill="#ffc125"/>
<rect x="782.0" y="174.3" width="19.2" height="12.0" fill="#ffc125"/>
<rect x="814.4" y="195.5" width="21.6" height="13.8" fill="#ffc125"/>
<rect x="841.9" y="224.7" width="21.6" height="13.8" fill="#ffc125"/>
<rect x="862.0" y="259.5" width="21.6" height="13.8" fill="#ffc125"/>
<rect x="873.6" y="298.0" width="21.6" height="13.8" fill="#ffc125"/>
<rect x="875.9" y="338.2" width="21.6" height="13.8" fill="#ffc125"/>
<rect x="868.9" y="377.7" width="21.6" height="13.8" fill="#ffc125"/>
<rect x="853.0" y="414.6" width="21.6" height="13.8" fill="#ffc125"/>
<rect x="829.1" y="447.0" width="21.4" height="13.6" fill="#cccccc"/>
<rect x="798.2" y="472.7" width="21.6" height="13.8" fill="#ffc125"/>
<rect x="762.3" y="490.8" width="21.6" height="13.8" fill="#ffc125"/>
<rect x="723.2" y="500.0" width="21.6" height="13.8" fill="#ffc125"/>
<rect x="683.0" y="500.0" width="21.6" height="13.8" fill="#ffc125"/>
<rect x="645.1" y="491.7" width="19.2" height="12.0" fill="#ffc125"/>
<rect x="608.0" y="472.7" width="21.6" height="13.8" fill="#ffc125"/>
<rect x="577.2" y="446.9" width="21.6" height="13.8" fill="#ffc125"/>
<rect x="553.2" y="414.7" width="21.6" height="13.8" fill="#ffc125"/>
<rect x="537.3" y="377.7" width="21.6" height="13.8" fill="#ffc125"/>
<rect x="530.3" y="338.2" width="21.6" height="13.8" fill="#ffc125"/>
<rect x="532.6" y="298.0" width="21.6" height="13.8" fill="#ffc125"/>
<rect x="544.2" y="259.5" width="21.6" height="13.8" fill="#ffc125"/>
<rect x="564.3" y="224.7" width="21.6" height="13.8" fill="#ffc125"/>
<rect x="591.8" y="195.5" width="21.6" height="13.8" fill="#ffc125"/>
<rect x="625.4" y="173.4" width="21.6" height="13.8" fill="#ffc125"/>
<rect x="663.2" y="159.7" width="21.6" height="13.8" fill="#ffc125"/>
<rect x="703.1" y="7.8" width="21.6" height="13.8" fill="#ffc125"/>
<rect x="743.2" y="10.3" width="21.6" height="13.8" fill="#ffc125"/>
<rect x="782.8" y="17.9" width="21.6" height="13.8" fill="#ffc125"/>
<rect x="821.0" y="30.3" width="21.6" height="13.8" fill="#ffc125"/>
<rect x="857.4" y="47.4" width="21.6" height="13.8" fill="#ffc125"/>
<rect x="891.4" y="69.0" width="21.6" height="13.8" fill="#ffc125"/>
<rect x="922.4" y="94.6" width="21.6" height="13.8" fill="#ffc125"/>
<rect x="949.9" y="123.9" width="21.6" height="13.8" fill="#ffc125"/>
<rect x="973.5" y="156.5" width="21.6" height="13.8" fill="#ffc125"/>
<rect x="992.9" y="191.7" width="21.6" height="13.8" fill="#ffc125"/>
<rect x="1007.7" y="229.1" width="21.6" height="13.8" fill="#ffc125"/>
<rect x="1017.7" y="268.1" width="21.6" height="13.8" fill="#ffc125"/>
<rect x="1022.8" y="308.0" width="21.6" height="13.8" fill="#ffc125"/>
<rect x="1022.8" y="348.2" width="21.6" height="13.8" fill="#ffc125"/>
<rect x="1018.9" y="389.0" width="19.2" height="12.0" fill="#cccccc"/>
<rect x="1007.7" y="427.1" width="21.6" height="13.8" fill="#ffc125"/>
<rect x="992.9" y="464.5" width="21.6" height="13.8" fill="#ffc125"/>
<rect x="973.5" y="499.7" width="21.6" height="13.8" fill="#ffc125"/>
<rect x="949.9" y="532.3" width="21.6" height="13.8" fill="#ffc125"/>
<rect x="922.4" y="561.6" width="21.6" height="13.8" fill="#ffc125"/>
<rect x="892.6" y="588.1" width="19.2" height="12.0" fill="#cccccc"/>
<rect x="858.6" y="609.7" width="19.2" height="12.0" fill="#cccccc"/>
<rect x="821.0" y="625.9" width="21.6" height="13.8" fill="#ffc125"/>
<rect x="782.8" y="638.3" width="21.6" height="13.8" fill="#ffc125"/>
<rect x="743.2" y="645.9" width="21.6" height="13.8" fill="#ffc125"/>
<rect x="703.1" y="648.4" width="21.6" height="13.8" fill="#ffc125"/>
<rect x="663.0" y="645.9" width="21.6" height="13.8" fill="#ffc125"/>
<rect x="623.4" y="638.3" width="21.6" height="13.8" fill="#ffc125"/>
<rect x="585.2" y="625.9" width="21.6" height="13.8" fill="#ffc125"/>
<rect x="548.8" y="608.8" width="21.6" height="13.8" fill="#ffc125"/>
<rect x="514.8" y="587.2" width="21.6" height="13.8" fill="#ffc125"/>
<rect x="483.9" y="561.7" width="21.4" height="13.6" fill="#cccccc"/>
<rect x="456.3" y="532.3" width="21.6" height="13.8" fill="#ffc125"/>
<rect x="432.7" y="499.7" width="21.6" height="13.8" fill="#ffc125"/>
<rect x="413.3" y="464.5" width="21.6" height="13.8" fill="#ffc125"/>
<rect x="398.5" y="427.1" width="21.6" height="13.8" fill="#ffc125"/>
<rect x="388.5" y="388.1" width="21.6" height="13.8" fill="#ffc125"/>
<rect x="383.4" y="348.2" width="21.6" height="13.8" fill="#ffc125"/>
<rect x="383.5" y="308.1" width="21.4" height="13.6" fill="#cccccc"/>
<rect x="389.7" y="269.0" width="19.2" height="12.0" fill="#ffc125"/>
<rect x="399.7" y="230.0" width="19.2" height="12.0" fill="#ffc125"/>
<rect x="414.5" y="192.6" width="19.2" height="12.0" fill="#ffc125"/>
<rect x="433.9" y="157.4" width="19.2" height="12.0" fill="#cccccc"/>
<rect x="457.5" y="124.8" width="19.2" height="12.0" fill="#ffc125"/>
<rect x="485.0" y="95.5" width="19.2" height="12.0" fill="#ffc125"/>
<rect x="516.0" y="69.9" width="19.2" height="12.0" fill="#ffc125"/>
<rect x="548.8" y="47.4" width="21.6" height="13.8" fill="#ffc125"/>
<rect x="586.4" y="31.2" width="19.2" height="12.0" fill="#cccccc"/>
<rect x="624.6" y="18.8" width="19.2" height="12.0" fill="#cccccc"/>
<rect x="664.2" y="11.2" width="19.2" height="12.0" fill="#cccccc"/>
<g font-family="Liberation Sans, sans-serif" font-size="2.15" fill="#4a4a4a" fill-opacity="0.7" text-anchor="middle">
<text x="713.9" y="302.9">Finance/BnR</text>
<text x="742.4" y="332.3">Oracle</text>
<text x="713.9" y="354.4">Corporate Data Exchange</text>
<text x="685.4" y="330.8">Finance Connect</text>
<text x="713.9" y="262.6">Policy Services</text>
<text x="754.3" y="275.7">Exchange &amp; Service</text>
<text x="754.3" y="278.3">Desk</text>
<text x="779.3" y="311.0">Business Objects</text>
<text x="779.3" y="352.7">Contact Management</text>
<text x="754.3" y="387.5">Data Services Tools</text>
<text x="713.9" y="400.2">SQL Connector</text>
<text x="673.5" y="387.1">Mailer</text>
<text x="648.5" y="353.6">Linux</text>
<text x="648.5" y="308.1">Finance Portal</text>
<text x="673.5" y="276.6">Citrix</text>
<text x="713.9" y="158.3">Salesforce Cloud</text>
<text x="753.8" y="163.0">Job Tracker</text>
<text x="791.6" y="177.6">Cloud Vault</text>
<text x="825.2" y="198.8">File System Store</text>
<text x="852.7" y="228.0">Payroll Service</text>
<text x="872.8" y="262.8">Invoice Management</text>
<text x="872.8" y="265.4">Portal</text>
<text x="884.4" y="301.3">Billdesk</text>
<text x="886.7" y="341.5">Helios</text>
<text x="879.7" y="381.0">Office Suite</text>
<text x="863.8" y="417.9">SQL Data Team Server</text>
<text x="839.8" y="450.3">Content Server</text>
<text x="809.0" y="476.0">Service Tracker</text>
<text x="773.1" y="494.1">Invoice Builder</text>
<text x="734.0" y="503.3">Invoice Viewer</text>
<text x="693.8" y="503.3">SIS Claims Center</text>
<text x="654.7" y="495.0">Reporter</text>
<text x="618.8" y="476.0">eDirect</text>
<text x="588.0" y="450.2">Site IT</text>
<text x="564.0" y="418.0">Labor Web</text>
<text x="548.1" y="381.0">Doculinks</text>
<text x="541.1" y="341.5">Work Tracking</text>
<text x="543.4" y="301.3">eCenter</text>
<text x="555.0" y="262.8">Inbound Contact Center</text>
<text x="575.1" y="228.0">eResource</text>
<text x="602.6" y="198.8">Time Tracker</text>
<text x="636.2" y="176.7">Hardware Inventory</text>
<text x="674.0" y="163.0">Search.fx</text>
<text x="713.9" y="11.1">eReward</text>
<text x="754.0" y="13.6">eDiscovery</text>
<text x="793.6" y="21.2">Fusion</text>
<text x="831.8" y="33.6">Enterprise Identity</text>
<text x="831.8" y="36.2">Service</text>
<text x="868.2" y="50.7">Service Now</text>
<text x="902.2" y="72.3">Kronos</text>
<text x="933.2" y="97.9">Oracle</text>
<text x="960.7" y="127.2">Security Studio</text>
<text x="984.3" y="159.8">Vantage</text>
<text x="1003.7" y="195.0">Corporate Data</text>
<text x="1003.7" y="197.6">Warehouse</text>
<text x="1018.5" y="232.4">Zone</text>
<text x="1028.5" y="271.4">Workforce</text>
<text x="1033.6" y="311.3">TaxSource</text>
<text x="1033.6" y="351.5">Asset Tracking</text>
<text x="1028.5" y="392.3">Datastore</text>
<text x="1018.5" y="430.4">Infrastructure Monitoring</text>
<text x="1003.7" y="467.8">CAD Viewer</text>
<text x="984.3" y="503.0">Intranet</text>
<text x="960.7" y="535.6">SQL Warehousing</text>
<text x="933.2" y="564.9">eRecords</text>
<text x="902.2" y="591.4">Common Data Store</text>
<text x="868.2" y="613.0">Global Accounts</text>
<text x="831.8" y="629.2">Documentum</text>
<text x="793.6" y="641.6">Human Resources</text>
<text x="754.0" y="649.2">Dev Tools</text>
<text x="713.9" y="651.7">PMWP Reports</text>
<text x="673.8" y="649.2">Credit Review</text>
<text x="634.2" y="641.6">Environmental Tools</text>
<text x="596.0" y="629.2">eTimesheets</text>
<text x="559.6" y="612.1">Data Manager</text>
<text x="525.6" y="590.5">eLearn</text>
<text x="494.6" y="565.0">Enterprise Directory</text>
<text x="467.1" y="535.6">ConnectedLine</text>
<text x="443.5" y="503.0">eDocs</text>
<text x="424.1" y="467.8">Notes</text>
<text x="409.3" y="430.4">Jobsource</text>
<text x="399.3" y="391.4">DocSet</text>
<text x="394.2" y="351.5">SQL Reporter</text>
<text x="394.2" y="311.4">eBank</text>
<text x="399.3" y="272.3">ZipTax</text>
<text x="409.3" y="233.3">Tape Exchange</text>
<text x="409.3" y="235.9">Connector</text>
<text x="424.1" y="195.9">TaxWise</text>
<text x="443.5" y="160.7">Cloud Gateway</text>
<text x="467.1" y="128.1">Excel</text>
<text x="494.6" y="98.8">Query Automation</text>
<text x="525.6" y="73.2">Inet.net</text>
<text x="559.6" y="50.7">Signage</text>
<text x="596.0" y="34.5">Amazon AWS</text>
<text x="596.0" y="37.1">Cloud</text>
<text x="634.2" y="22.1">Care</text>
<text x="673.8" y="14.5">Bacs Net</text>
</g>
</svg>
<div id="tb">
<svg width="275" height="55" viewBox="755 666 275 55">
<g fill="none" stroke="#4a4a4a" stroke-width="1.1" stroke-linejoin="round" stroke-linecap="round">
<path d="M778.4 691.6v-3.1q0-1.1 1.1-1.1h3.3 M786.3 687.4h3.3q1.1 0 1.1 1.1v3.1 M790.7 695.2v3.1q0 1.1-1.1 1.1h-3.3 M782.8 699.4h-3.3q-1.1 0-1.1-1.1v-3.1" />
<circle cx="823.4" cy="692" r="6"/><path d="M827.9 696.5l4.6 4.1"/><path d="M820.4 692.2h6" stroke="#9a9a9a"/>
<circle cx="999.5" cy="692.5" r="6.1" stroke-width="1"/><path d="M1003.9 697l4.9 3.9"/><path d="M996.3 692.5h6.4M999.5 689.3v6.4" stroke-width="0.9"/>
</g>
<rect x="804" y="680" width="1" height="27" fill="#dcdde0"/>
<rect x="850" y="690" width="129" height="5" fill="#dcdcde"/>
<rect x="846.6" y="683.8" width="7.3" height="17.2" rx="3.65" fill="#636569"/>
</svg>
</div>
<div id="legend">
<div class="hd">Legend</div>
<div class="ln" style="top:38px">Showing:</div>
<div class="ln i" style="top:55px">Upstream/Downstream Relationships</div>
<div class="ln i" style="top:73px">Direct Dependency Relationships</div>
<div class="ln i" style="top:90px">Node Color: Technical Environment: Upstream Applications:(Count)</div>
<div class="ln i" style="top:108px">Node Size: Technical Environment: Downstream Applications:(Count)</div>
<div class="ln i" style="top:126px">Layout: Concentric</div>
<div class="ln" style="top:142px;left:2px;font-weight:normal;color:#222;font-size:11px;letter-spacing:0.4px">Percentiles:</div>
<div class="bar" style="left:64px;width:109px;background:#f4a6c0"><span style="float:left;padding-left:1px">100%</span>80%</div>
<div class="bar" style="left:173px;width:77px;background:#ffc125;padding-right:1px">20%</div>
<div class="bar" style="left:250px;width:77px;background:#3ee6ee;padding-right:1px">0%</div>
<div class="bar" style="left:327px;width:46px;background:#cccccc;text-align:center">N/A</div>
</div>
</body>
</html>
